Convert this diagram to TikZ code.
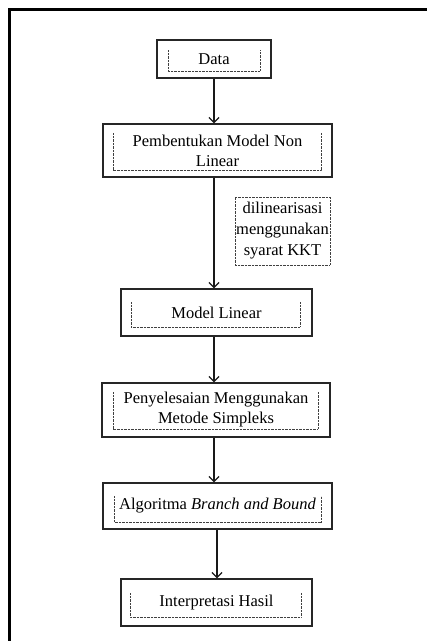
\documentclass[tikz,border=0pt]{standalone}
\usepackage{fontspec}
\setmainfont{Liberation Serif}
\usetikzlibrary{arrows.meta}
\begin{document}
\begin{tikzpicture}[x=1pt,y=-1pt,
  box/.style={draw=black!85, line width=1.3pt, inner sep=0pt, align=center,
    font=\fontsize{16.5}{20}\selectfont},
  dots/.style={draw=black!75, line width=0.8pt, dash pattern=on 0.7pt off 0.7pt},
  arr/.style={draw=black!90, line width=1.3pt, -{Straight Barb[length=5pt,width=10pt]}}]
\useasboundingbox (0,0) rectangle (427,641);
% outer frame (only top and left visible)
\draw[line width=2.5pt] (9.5,641) -- (9.5,9.5) -- (427,9.5);
% main boxes
\node[box, minimum width=114pt, minimum height=38pt] (data) at (214,59) {Data};
\node[box, minimum width=229pt, minimum height=53pt] (pem) at (217.5,150.5) {Pembentukan Model Non\\Linear};
\node[box, minimum width=191pt, minimum height=47pt] (ml) at (216.5,312.5) {Model Linear};
\node[box, minimum width=228pt, minimum height=54pt] (pen) at (216,410) {Penyelesaian Menggunakan\\Metode Simpleks};
\node[box, minimum width=229pt, minimum height=46pt] (alg) at (217.5,506) {Algoritma \textit{Branch and Bound}};
\node[box, minimum width=191pt, minimum height=47pt] (int) at (216.5,602.5) {Interpretasi Hasil};
% side label
\node[dots, inner sep=0pt, align=center, minimum width=95pt, minimum height=68pt,
  font=\fontsize{16.5}{21}\selectfont] (kkt) at (282.5,231) {dilinearisasi\\menggunakan\\syarat KKT};
% inner dotted frames (open at the top)
\draw[dots] (168,50) -- (168,71) -- (260,71) -- (260,50);
\draw[dots] (113,133) -- (113,170) -- (321,170) -- (321,133);
\draw[dots] (131,302) -- (131,327) -- (300,327) -- (300,302);
\draw[dots] (113,392) -- (113,429) -- (318,429) -- (318,392);
\draw[dots] (114,496) -- (114,522) -- (321,522) -- (321,496);
\draw[dots] (130,593) -- (130,617) -- (301,617) -- (301,593);
% connectors
\coordinate (col) at (214,0);
\coordinate (col2) at (217,0);
\draw[arr] (data.south) -- (col |- pem.north);
\draw[arr] (col |- pem.south) -- (col |- ml.north);
\draw[arr] (col |- ml.south) -- (col |- pen.north);
\draw[arr] (col |- pen.south) -- (col |- alg.north);
\draw[arr] (col2 |- alg.south) -- (col2 |- int.north);
\end{tikzpicture}
\end{document}
